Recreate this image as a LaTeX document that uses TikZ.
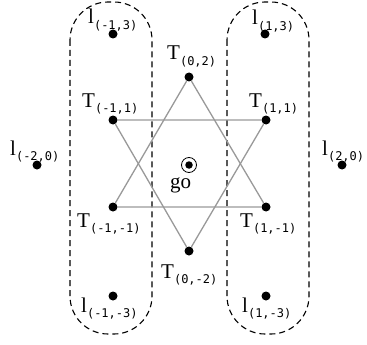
\documentclass[tikz,border=0pt]{standalone}
\usepackage{fontspec}
\setmainfont{Liberation Serif}
\newfontfamily\subf{DejaVu Sans Mono}
\newcommand\sbx[1]{\raisebox{-5.5pt}{\fontsize{12}{12}\subf #1}}
\begin{document}
\begin{tikzpicture}[x=1pt,y=-1pt,
  dot/.style={circle,fill=black,inner sep=0pt,minimum size=9pt},
  lab/.style={anchor=base west,inner sep=0pt,font=\fontsize{21}{21}\selectfont},
  grp/.style={draw,dashed,line width=1.1pt,dash pattern=on 6pt off 4pt,rounded corners=38pt},
  star/.style={draw=black!40,line width=1.3pt}]
\useasboundingbox (0,0) rectangle (367,345);
% dashed groups
\draw[grp] (70,2) rectangle (152,334);
\draw[grp] (227,2) rectangle (309,334);
% dots
\node[dot] (lm13) at (113,34) {};
\node[dot] (l13) at (265,34) {};
\node[dot] (T02) at (189,77) {};
\node[dot] (Tm11) at (113,120) {};
\node[dot] (T11) at (266,120) {};
\node[dot] (lm20) at (37,165) {};
\node[dot] (l20) at (342,165) {};
\node[dot,minimum size=7.5pt] (go) at (189,165) {};
\node[circle,draw,line width=0.8pt,minimum size=15pt,inner sep=0pt] (goring) at (go) {};
\node[dot] (Tm1m1) at (113,207) {};
\node[dot] (T1m1) at (266,207) {};
\node[dot] (T0m2) at (189,251) {};
\node[dot] (lm1m3) at (113,296) {};
\node[dot] (l1m3) at (266,296) {};
% star
\draw[star] (T02) -- (Tm1m1) -- (T1m1) -- (T02);
\draw[star] (T0m2) -- (Tm11) -- (T11) -- (T0m2);
% labels
\node[lab] (tlm13) at (88,24) {l\sbx{(-1,3)}};
\node[lab] (tl13) at (252,25) {l\sbx{(1,3)}};
\node[lab] (tT02) at (167,60) {T\sbx{(0,2)}};
\node[lab] (tTm11) at (82,107) {T\sbx{(-1,1)}};
\node[lab] (tT11) at (249,107) {T\sbx{(1,1)}};
\node[lab] (tlm20) at (10,155) {l\sbx{(-2,0)}};
\node[lab] (tl20) at (322,155) {l\sbx{(2,0)}};
\node[lab] (tgo) at (170,188) {go};
\node[lab] (tTm1m1) at (77,227) {T\sbx{(-1,-1)}};
\node[lab] (tT1m1) at (240,227) {T\sbx{(1,-1)}};
\node[lab] (tT0m2) at (161,278) {T\sbx{(0,-2)}};
\node[lab] (tlm1m3) at (81,312) {l\sbx{(-1,-3)}};
\node[lab] (tl1m3) at (242,312) {l\sbx{(1,-3)}};
\end{tikzpicture}
\end{document}
